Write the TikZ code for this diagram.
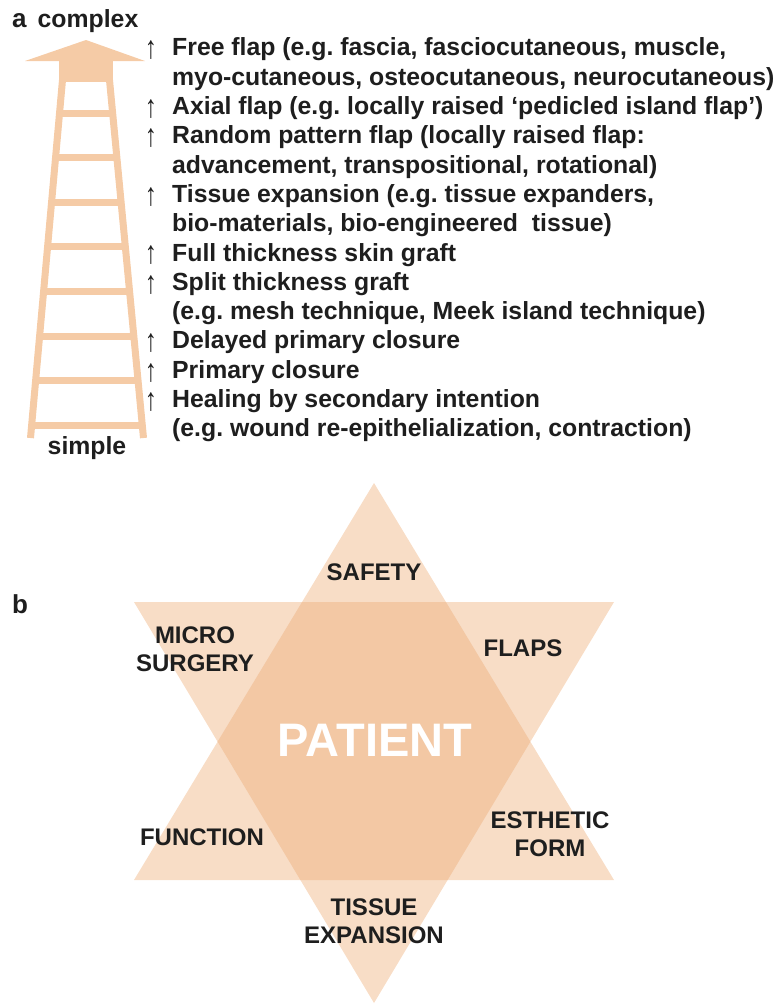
\documentclass[tikz,border=0pt]{standalone}
\usepackage{fontspec}
\setmainfont{Liberation Sans}
\usetikzlibrary{calc}
\definecolor{peach}{HTML}{F5CBA6}
\definecolor{peachlight}{HTML}{F8DDC6}
\definecolor{peachdark}{HTML}{F3C8A4}
\definecolor{ink}{HTML}{1E1E1E}
\def\tallup{\scalebox{1.1}[1.45]{↑}}
\tikzset{
	rail/.style={draw=peach, line width=7pt},
	rung/.style={draw=peach, line width=7pt},
	entry/.style={anchor=base west, inner sep=0pt, text=ink, font=\fontsize{24.8}{28}\selectfont\bfseries},
	arrowmark/.style={anchor=south, inner sep=0pt, text=ink, font=\fontsize{22}{24}\selectfont},
	starlabel/.style={align=center, inner sep=0pt, text=ink, font=\fontsize{24}{28}\selectfont\bfseries},
	panel/.style={anchor=base west, inner sep=0pt, text=ink, font=\fontsize{26}{28}\selectfont\bfseries}
}
\frenchspacing

\begin{document}
\begin{tikzpicture}[x=1pt, y=-1pt]
		\useasboundingbox (0,0) rectangle (777,1007);
		
		%%%%% LADDER %%%%%
		
		\fill[peach] (86,40) -- (145,61) -- (25,61) -- cycle;
		\fill[peach] (59,61) rectangle (113,82);
		
		\coordinate (lt) at (62.5,80);
		\coordinate (lb) at (30.5,438);
		\coordinate (rt) at (109.5,80);
		\coordinate (rb) at (143.5,438);
		\draw[rail] (lt) -- (lb);
		\draw[rail] (rt) -- (rb);
		
		\foreach \y in {113,157.6,202.2,246.8,291.4,336,380.6,425.2}
			\draw[rung] ($(lt)!{(\y-80)/358}!(lb)$) -- ($(rt)!{(\y-80)/358}!(rb)$);
		
		\node[panel] (panela) at (12,27) {a};
		\node[entry, anchor=base] (complex) at (88,27) {complex};
		\node[entry, anchor=base] (simple) at (87,454) {simple};
		
		%%%%% LIST %%%%%
		
		\foreach \txt [count=\k from 0] in {
			{Free flap (e.g. fascia, fasciocutaneous, muscle,},
			{myo-cutaneous, osteocutaneous, neurocutaneous)},
			{Axial flap (e.g. locally raised ‘pedicled island flap’)},
			{Random pattern flap (locally raised flap:},
			{advancement, transpositional, rotational)},
			{Tissue expansion (e.g. tissue expanders,},
			{bio-materials, bio-engineered\ \ tissue)},
			{Full thickness skin graft},
			{Split thickness graft},
			{(e.g. mesh technique, Meek island technique)},
			{Delayed primary closure},
			{Primary closure},
			{Healing by secondary intention},
			{(e.g. wound re-epithelialization, contraction)}}
			\node[entry] (line\k) at (172,{55.9+29.3*\k}) {\txt};
		
		\foreach \k in {0,2,3,5,7,8,10,11,12}
			\node[arrowmark] (up\k) at (151,{60+29.3*\k}) {\tallup};
		
		%%%%% STAR %%%%%
		
		\coordinate (uptop) at (374,483);
		\coordinate (upleft) at (134,880);
		\coordinate (upright) at (614,880);
		\coordinate (dnleft) at (134,602);
		\coordinate (dnright) at (614,602);
		\coordinate (dnbot) at (374,1003);
		
		\fill[peachlight] (uptop) -- (upleft) -- (upright) -- cycle;
		\fill[peachlight] (dnleft) -- (dnright) -- (dnbot) -- cycle;
		\begin{scope}
			\clip (uptop) -- (upleft) -- (upright) -- cycle;
			\fill[peachdark] (dnleft) -- (dnright) -- (dnbot) -- cycle;
		\end{scope}
		
		\node[panel] (panelb) at (12,613) {b};
		
		\node[starlabel] (safety) at (374,572) {SAFETY};
		\node[starlabel] (micro) at (195,649) {MICRO\\SURGERY};
		\node[starlabel] (flaps) at (523,648) {FLAPS};
		\node[starlabel] (function) at (202,837) {FUNCTION};
		\node[starlabel] (esthetic) at (550,834) {ESTHETIC\\FORM};
		\node[starlabel] (tissue) at (374,921) {TISSUE\\EXPANSION};
		\node[inner sep=0pt, text=white, font=\fontsize{47}{50}\selectfont\bfseries] (patient) at (375,740) {PATIENT};
		
	\end{tikzpicture}
\end{document}
